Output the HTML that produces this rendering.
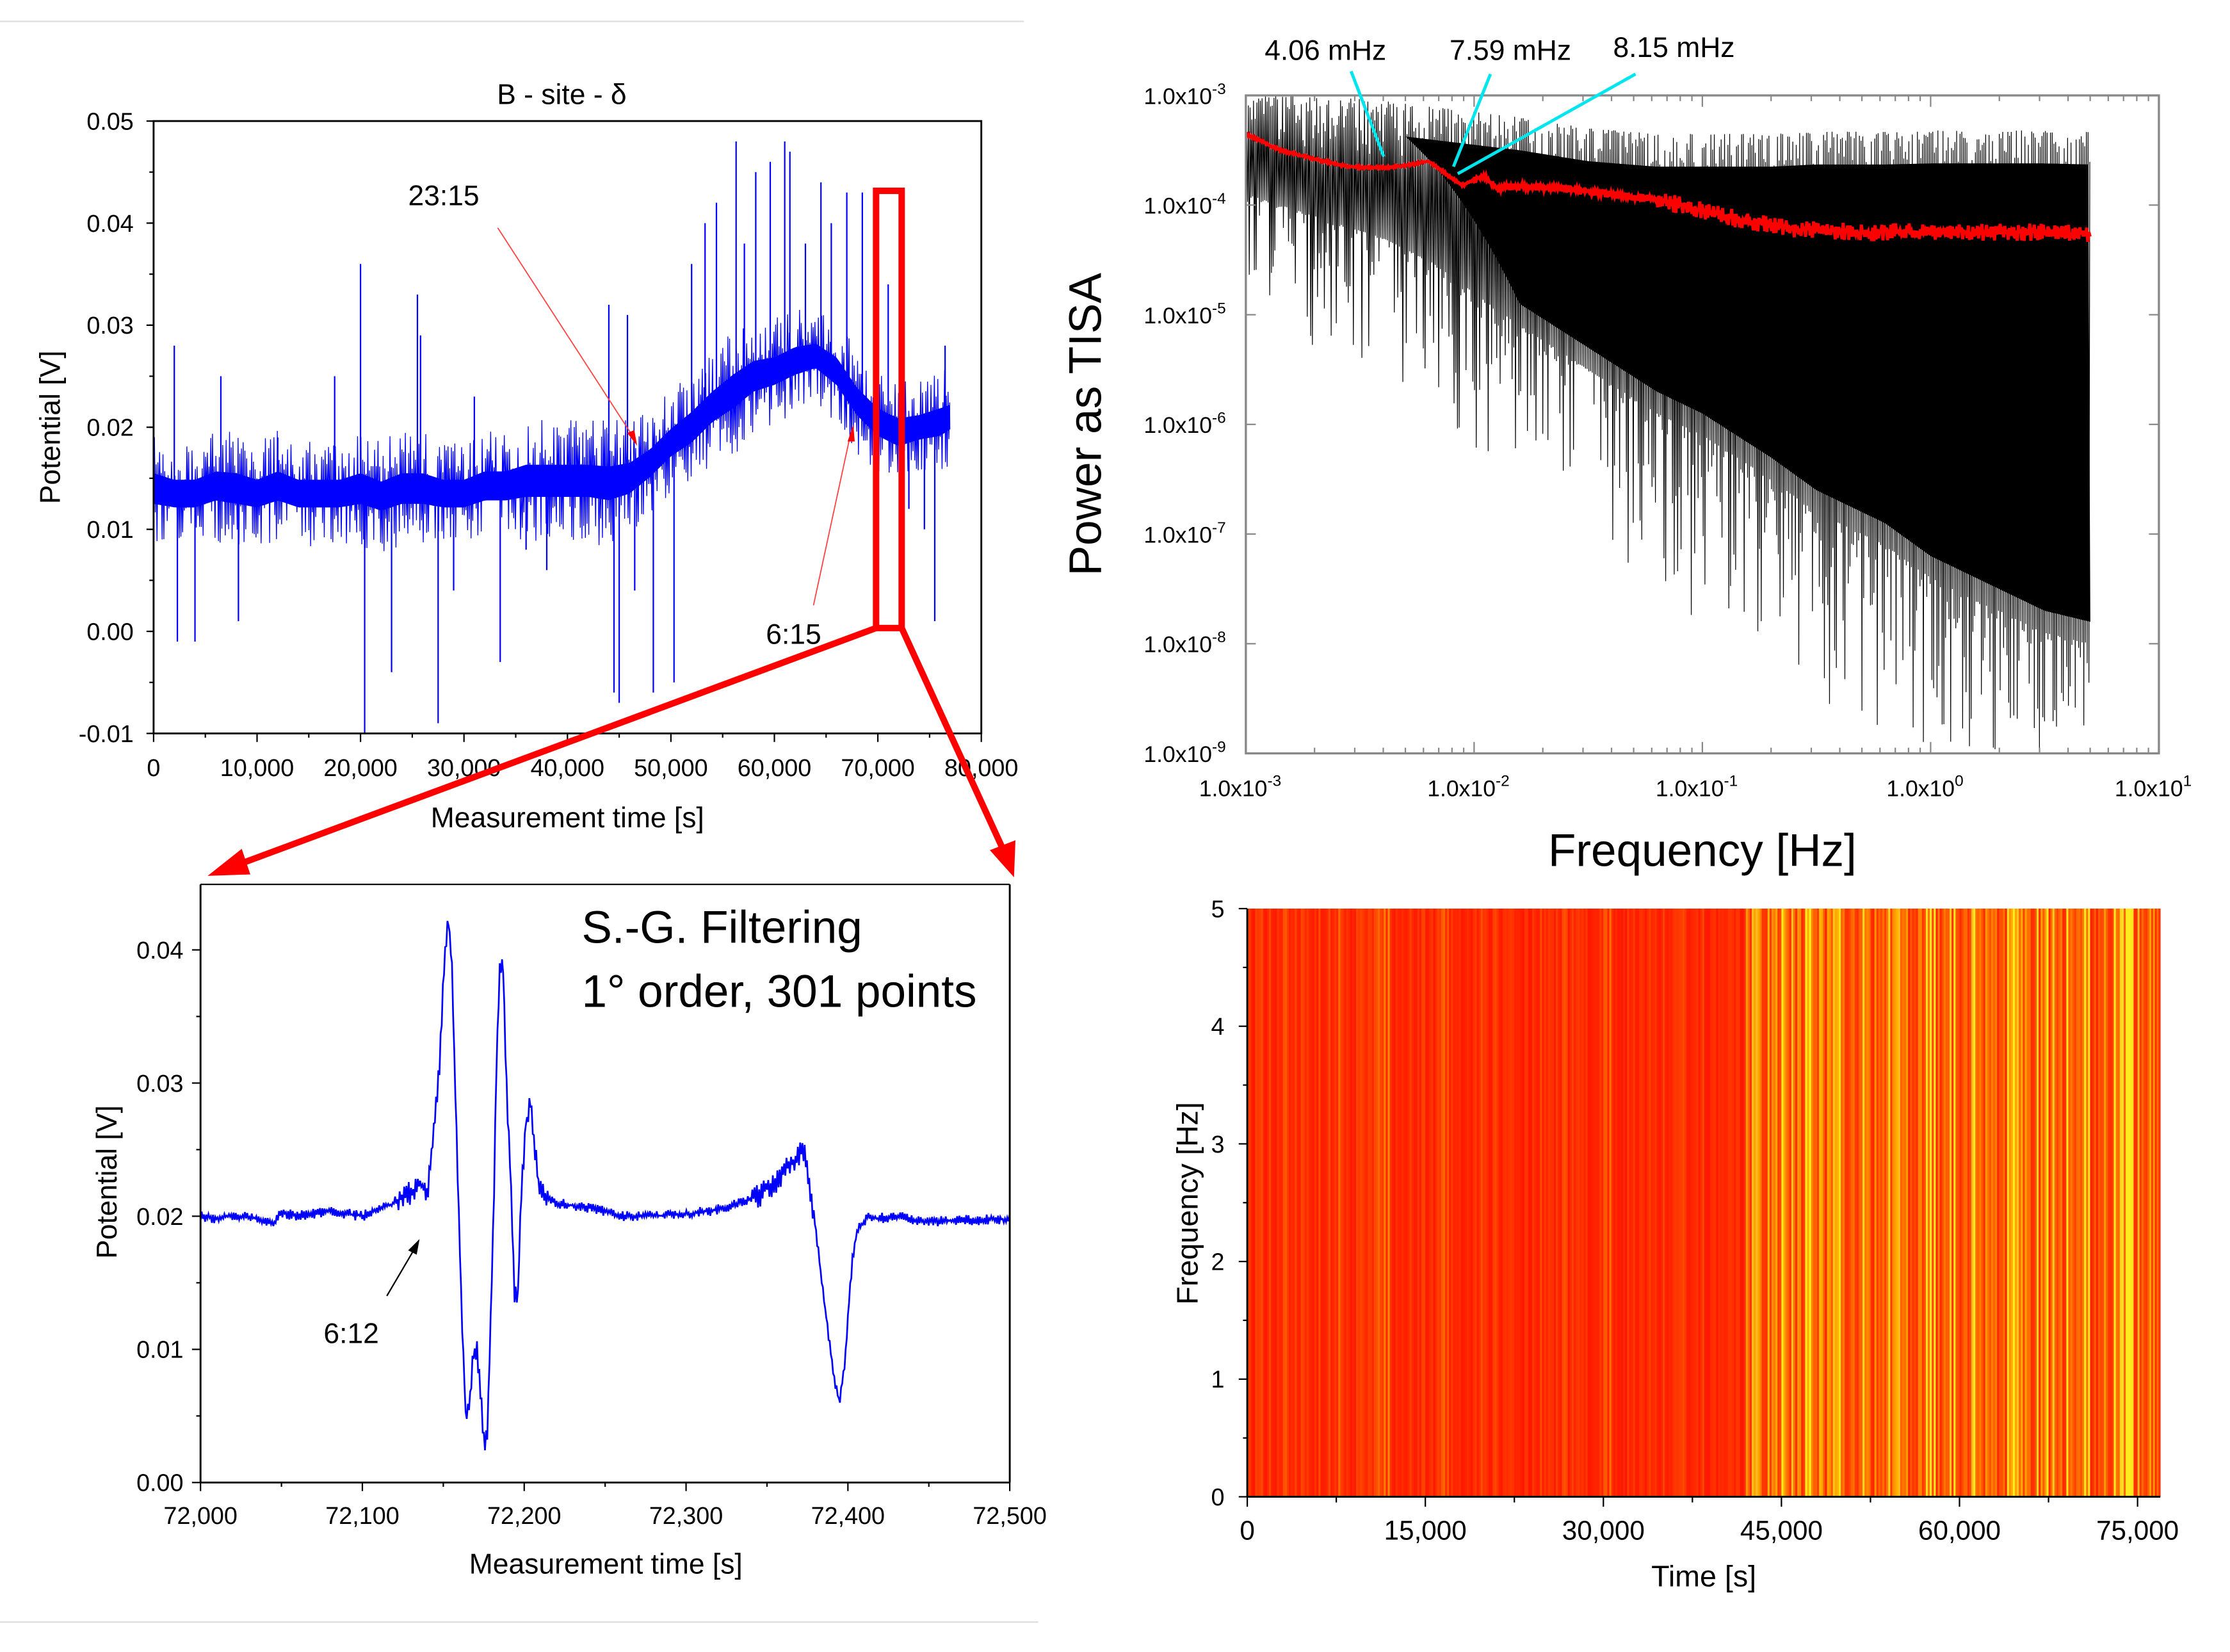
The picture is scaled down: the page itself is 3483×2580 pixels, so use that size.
<!DOCTYPE html>
<html><head><meta charset="utf-8"><style>
html,body{margin:0;padding:0;background:#fff;}
svg{display:block;font-family:"Liberation Sans",Arial,sans-serif;}
</style></head><body>
<svg id="fig" width="3483" height="2580" viewBox="0 0 1568 1160" preserveAspectRatio="none" xmlns="http://www.w3.org/2000/svg">
<line x1="0" y1="15" x2="720" y2="15" stroke="#ddd" stroke-width="1"/>
<line x1="0" y1="1139" x2="730" y2="1139" stroke="#ddd" stroke-width="1"/>
<g id="tl"></g>
<g id="bl"></g>
<g id="tr"></g>
<g id="br"></g>
<g id="ann"></g>
</svg>
<script>
// ---------- Raw potential (top-left) ----------
const rawTimes = [0,2000,4000,6000,8000,10000,12000,14000,16000,18000,20000,22000,24000,26000,28000,30000,32000,34000,36000,38000,40000,42000,44000,46000,48000,50000,52000,54000,56000,58000,60000,62000,64000,66000,68000,70000,72000,74000,76000,77000];
const rawLow  = [0.009,0.009,0.009,0.0095,0.009,0.009,0.0095,0.009,0.009,0.009,0.009,0.0085,0.009,0.009,0.009,0.009,0.0095,0.0095,0.0095,0.0095,0.0095,0.0095,0.009,0.010,0.012,0.014,0.015,0.017,0.018,0.020,0.021,0.022,0.023,0.021,0.018,0.016,0.015,0.016,0.016,0.017];
const rawHigh = [0.019,0.018,0.018,0.019,0.019,0.018,0.019,0.018,0.018,0.018,0.019,0.018,0.019,0.019,0.018,0.018,0.019,0.019,0.020,0.020,0.020,0.020,0.020,0.020,0.021,0.023,0.025,0.027,0.029,0.030,0.030,0.031,0.031,0.030,0.027,0.025,0.024,0.024,0.025,0.025];
const spikeT = [2000,2300,4000,6500,8200,12000,17500,20000,20400,23000,25500,25800,27500,29000,31000,33500,36000,38000,44000,44500,45000,45800,46500,48300,50300,52000,53300,54400,56300,57100,58200,59600,61000,61500,63000,64500,65500,67000,68500,69600,71000,73000,74500,75500,76500];
const spikeV = [0.028,-0.001,-0.001,0.025,0.001,0.019,0.025,0.036,-0.010,-0.004,0.033,0.029,-0.009,0.004,0.023,-0.003,0.008,0.006,0.032,-0.006,-0.007,0.031,0.004,-0.006,-0.005,0.036,0.040,0.042,0.048,0.038,0.045,0.046,0.048,0.047,0.038,0.044,0.040,0.043,0.043,0.009,0.034,0.012,0.010,0.001,0.028];
const rawYTicks = [-0.01,0.00,0.01,0.02,0.03,0.04,0.05];
const rawXTicks = [0,10000,20000,30000,40000,50000,60000,70000,80000];

// ---------- Filtered (bottom-left) ----------
const sgT = [72000,72010,72020,72030,72040,72045,72050,72060,72080,72100,72110,72120,72130,72136,72140,72144,72148,72151,72153,72155,72157,72159,72161,72163,72164,72166,72169,72171,72173,72175,72177,72179,72181,72183,72185,72187,72189,72192,72194,72196,72198,72201,72204,72206,72209,72212,72219,72230,72245,72260,72280,72300,72320,72333,72345,72355,72362,72368,72373,72376,72379,72383,72386,72389,72392,72395,72398,72401,72403,72406,72409,72413,72417,72430,72447,72470,72500];
const sgV = [0.0200,0.0198,0.0201,0.0199,0.0197,0.0193,0.0203,0.0200,0.0204,0.0200,0.0205,0.0210,0.0218,0.0225,0.0215,0.0260,0.0320,0.0400,0.0422,0.0400,0.0310,0.0230,0.0140,0.0080,0.0045,0.0060,0.0100,0.0098,0.0070,0.0035,0.0030,0.0110,0.0200,0.0320,0.0385,0.0390,0.0300,0.0220,0.0140,0.0135,0.0215,0.0270,0.0285,0.0255,0.0225,0.0215,0.0210,0.0208,0.0205,0.0200,0.0200,0.0202,0.0205,0.0210,0.0215,0.0225,0.0235,0.0245,0.0248,0.0225,0.0200,0.0160,0.0130,0.0100,0.0075,0.0060,0.0090,0.0140,0.0170,0.0190,0.0195,0.0200,0.0198,0.0200,0.0196,0.0197,0.0198];
const sgYTicks = [0.00,0.01,0.02,0.03,0.04];
const sgXTicks = [72000,72100,72200,72300,72400,72500];

// ---------- Power spectrum (top-right), log10 values ----------
const psLogF   = [-3,-2.7,-2.4,-2.2,-2,-1.8,-1.5,-1.2,-1,-0.7,-0.5,-0.2,0,0.3,0.5,0.7];
const psUpper  = [-3.0,-3.0,-3.05,-3.1,-3.15,-3.2,-3.3,-3.35,-3.35,-3.35,-3.33,-3.33,-3.32,-3.32,-3.32,-3.33];
const psSolid  = [-3.9,-4.1,-4.3,-4.5,-4.8,-5.1,-5.5,-5.9,-6.1,-6.5,-6.8,-7.1,-7.4,-7.7,-7.9,-8.0];
const psMin    = [-4.9,-5.3,-5.5,-5.8,-6.2,-6.6,-7.1,-7.6,-7.8,-8.2,-8.5,-8.8,-9.0,-9.0,-9.0,-9.0];
const avgLogF  = [-3,-2.85,-2.7,-2.55,-2.4,-2.3,-2.2,-2.12,-2.05,-1.96,-1.9,-1.8,-1.6,-1.4,-1.2,-1,-0.8,-0.6,-0.3,0,0.3,0.5,0.7];
const avgLogP  = [-3.35,-3.5,-3.58,-3.65,-3.66,-3.64,-3.6,-3.72,-3.82,-3.73,-3.85,-3.83,-3.85,-3.9,-3.95,-4.05,-4.15,-4.22,-4.25,-4.24,-4.25,-4.25,-4.27];
const psYTicks = [-9,-8,-7,-6,-5,-4,-3];
const psXTicks = [-3,-2,-1,0,1];

// ---------- Spectrogram (bottom-right), intensity per 1000 s ----------
const specIntensity = [0.25,0.3,0.2,0.35,0.25,0.2,0.3,0.4,0.2,0.25,0.3,0.45,0.2,0.25,0.3,0.2,0.35,0.25,0.2,0.3,
0.25,0.2,0.3,0.2,0.35,0.2,0.3,0.25,0.2,0.3,0.4,0.2,0.25,0.3,0.2,0.35,0.3,0.2,0.3,0.2,0.25,0.2,
0.8,0.55,0.65,0.85,0.5,0.75,0.55,0.65,0.45,0.7,0.55,0.4,0.75,0.6,0.5,0.85,0.65,0.75,0.55,0.8,0.5,0.6,0.75,0.55,0.65,0.85,0.45,0.7,0.75,0.35,0.55,0.8,0.85,0.6,0.65];
const specXTicks = [0,15000,30000,45000,60000,75000];
const specYTicks = [0,1,2,3,4,5];

const NS="http://www.w3.org/2000/svg";
function mk(parent,tag,attrs,text){const e=document.createElementNS(NS,tag);for(const k in attrs)e.setAttribute(k,attrs[k]);if(text!==undefined)e.textContent=text;parent.appendChild(e);return e;}
function interp(xs,ys,x){if(x<=xs[0])return ys[0];for(let i=1;i<xs.length;i++){if(x<=xs[i]){const t=(x-xs[i-1])/(xs[i]-xs[i-1]);return ys[i-1]+t*(ys[i]-ys[i-1]);}}return ys[ys.length-1];}
// deterministic irregular texture (styling only, not data)
const jf=k=>{const s=Math.sin(k*12.9898+1.7)*43758.5453;return s-Math.floor(s);};

// ===== Top-left =====
(function(){
const g=document.getElementById('tl');
const X0=108,X1=690,Y0=85,Y1=515;
const sx=t=>X0+(t-0)/80000*(X1-X0);
const sy=v=>Y1-(v+0.01)/0.06*(Y1-Y0);
let t1=mk(g,'text',{x:395,y:73,'font-size':20,'text-anchor':'middle'},'B - site - δ');

let poly=[];
for(let px=X0;px<=sx(77000);px+=2){const t=(px-X0)/(X1-X0)*80000;const lo=interp(rawTimes,rawLow,t),hi=interp(rawTimes,rawHigh,t);const m=(lo+hi)/2,h=(hi-lo)/2;poly.push(px+','+sy(m+h*0.3).toFixed(1));}
for(let px=sx(77000);px>=X0;px-=2){const t=(px-X0)/(X1-X0)*80000;const lo=interp(rawTimes,rawLow,t),hi=interp(rawTimes,rawHigh,t);const m=(lo+hi)/2,h=(hi-lo)/2;poly.push(px.toFixed(1)+','+sy(m-h*0.3).toFixed(1));}
let core=mk(g,'polygon',{points:poly.join(' '),fill:'#0000ff'});

let pts=[];let k=0;
for(let px=X0;px<=sx(77000);px+=0.6){const t=(px-X0)/(X1-X0)*80000;const lo=interp(rawTimes,rawLow,t),hi=interp(rawTimes,rawHigh,t);const mid=(lo+hi)/2,h=(hi-lo)/2;const f=jf(k);const v=(k%2?mid+h*f*1.15:mid-h*f*1.15);pts.push(px.toFixed(1)+','+sy(v).toFixed(1));k++;}
let band=mk(g,'polyline',{points:pts.join(' '),fill:'none',stroke:'#0000ff','stroke-width':0.6});

spikeT.forEach((t,i)=>{const lo=interp(rawTimes,rawLow,t),hi=interp(rawTimes,rawHigh,t);const m=(lo+hi)/2;
 const s=mk(g,'line',{x1:sx(t),x2:sx(t),y1:sy(m),y2:sy(spikeV[i]),stroke:'#0000ff','stroke-width':1});
 });
let fr=mk(g,'rect',{x:X0,y:Y0,width:X1-X0,height:Y1-Y0,fill:'none',stroke:'#000','stroke-width':1.3});

rawYTicks.forEach(v=>{mk(g,'line',{x1:X0,x2:X0-5,y1:sy(v),y2:sy(v),stroke:'#000'});
 const tl=mk(g,'text',{x:X0-14,y:sy(v)+6,'font-size':17,'text-anchor':'end'},v.toFixed(2));
 });
for(let v=-0.01;v<0.05;v+=0.005){mk(g,'line',{x1:X0,x2:X0-3,y1:sy(v),y2:sy(v),stroke:'#000'});}
rawXTicks.forEach(v=>{mk(g,'line',{x1:sx(v),x2:sx(v),y1:Y1,y2:Y1+6,stroke:'#000'});
 const tl=mk(g,'text',{x:sx(v),y:Y1+30,'font-size':17,'text-anchor':'middle'},v===0?'0':v.toLocaleString('en-US'));
 });
for(let v=5000;v<80000;v+=10000)mk(g,'line',{x1:sx(v),x2:sx(v),y1:Y1,y2:Y1+3,stroke:'#000'});
let xa=mk(g,'text',{x:399,y:581,'font-size':20,'text-anchor':'middle'},'Measurement time [s]');

let ya=mk(g,'text',{x:42,y:300,'font-size':20,'text-anchor':'middle',transform:'rotate(-90 42 300)'},'Potential [V]');

})();

// ===== Bottom-left =====
(function(){
const g=document.getElementById('bl');
const X0=141,X1=710,Y0=621,Y1=1041;
const sx=t=>X0+(t-72000)/500*(X1-X0);
const sy=v=>Y1-v/0.01*93.5;
let pts=[];let k=0;
for(let px=X0;px<=X1;px+=0.8){const t=72000+(px-X0)/(X1-X0)*500;const v=interp(sgT,sgV,t);const amp=(t>72120&&t<72215)||(t>72340&&t<72380)?0.0009:0.0004;pts.push(px.toFixed(1)+','+sy(v+(k%2?1:-1)*amp*jf(k)).toFixed(1));k++;}
let ln=mk(g,'polyline',{points:pts.join(' '),fill:'none',stroke:'#0000ff','stroke-width':1.2});

mk(g,'line',{x1:X0,x2:X0,y1:Y0,y2:Y1,stroke:'#000','stroke-width':1.3});
mk(g,'line',{x1:X0,x2:X1,y1:Y1,y2:Y1,stroke:'#000','stroke-width':1.3});
mk(g,'line',{x1:X1,x2:X1,y1:Y0,y2:Y1,stroke:'#000','stroke-width':1.3});
mk(g,'line',{x1:X0,x2:X1,y1:Y0,y2:Y0,stroke:'#000','stroke-width':1});
sgYTicks.forEach(v=>{mk(g,'line',{x1:X0,x2:X0-6,y1:sy(v),y2:sy(v),stroke:'#000'});
 const tl=mk(g,'text',{x:X0-12,y:sy(v)+6,'font-size':17,'text-anchor':'end'},v.toFixed(2));
 });
for(let v=0.005;v<0.045;v+=0.01)mk(g,'line',{x1:X0,x2:X0-3,y1:sy(v),y2:sy(v),stroke:'#000'});
sgXTicks.forEach(v=>{mk(g,'line',{x1:sx(v),x2:sx(v),y1:Y1,y2:Y1+6,stroke:'#000'});
 const tl=mk(g,'text',{x:sx(v),y:Y1+29,'font-size':17,'text-anchor':'middle'},v.toLocaleString('en-US'));
 });
for(let v=72050;v<72500;v+=100)mk(g,'line',{x1:sx(v),x2:sx(v),y1:Y1,y2:Y1+3,stroke:'#000'});
let xa=mk(g,'text',{x:426,y:1105,'font-size':20,'text-anchor':'middle'},'Measurement time [s]');

let ya=mk(g,'text',{x:82,y:830,'font-size':20,'text-anchor':'middle',transform:'rotate(-90 82 830)'},'Potential [V]');

let a=mk(g,'text',{x:409,y:662,'font-size':32},'S.-G. Filtering');

let b=mk(g,'text',{x:409,y:707,'font-size':32},'1° order, 301 points');

let c=mk(g,'text',{x:247,y:943,'font-size':20,'text-anchor':'middle'},'6:12');

mk(g,'line',{x1:272,y1:910,x2:292,y2:876,stroke:'#000','stroke-width':1});
mk(g,'polygon',{points:'295,870 287,878 293,881',fill:'#000'});
})();

// ===== Top-right =====
(function(){
const g=document.getElementById('tr');
const X0=876,X1=1518,Y0=67,Y1=529;
const sx=lf=>X0+(lf+3)/4*(X1-X0);
const sy=lp=>Y0+(-3-lp)/6*(Y1-Y0);
const xEnd=sx(0.7);
const xSolid=sx(-2.3);
let poly=[];
for(let px=xSolid;px<=xEnd;px+=2){const lf=-3+(px-X0)/(X1-X0)*4;poly.push(px.toFixed(1)+','+sy(interp(psLogF,psUpper,lf)-0.3).toFixed(1));}
for(let px=xEnd;px>=xSolid;px-=2){const lf=-3+(px-X0)/(X1-X0)*4;const ramp=Math.min(1,(lf+2.3)/0.5);const so=interp(psLogF,psSolid,lf)+0.2;const up=interp(psLogF,psUpper,lf)-0.3;poly.push(px.toFixed(1)+','+sy(up+(so-up)*ramp).toFixed(1));}
let core=mk(g,'polygon',{points:poly.join(' '),fill:'#000'});

let pts=[];let k=0;
for(let px=X0;px<=xEnd;px+=0.6){const lf=-3+(px-X0)/(X1-X0)*4;const up=interp(psLogF,psUpper,lf),so=interp(psLogF,psSolid,lf),mn=interp(psLogF,psMin,lf);const f=jf(k);
 const v=(k%2)?up-0.5*f*f:so-(so-mn)*Math.pow(f,3);pts.push(px.toFixed(1)+','+sy(v).toFixed(1));k++;}
let sp=mk(g,'polyline',{points:pts.join(' '),fill:'none',stroke:'#000','stroke-width':0.55});

let rp=[];k=0;
for(let px=X0;px<=xEnd;px+=0.8){const lf=-3+(px-X0)/(X1-X0)*4;const v=interp(avgLogF,avgLogP,lf);const amp=lf>-1.2?0.08:(lf>-2?0.035:0.012);rp.push(px.toFixed(1)+','+sy(v+(k%2?1:-1)*amp*jf(k+500)).toFixed(1));k++;}
let red=mk(g,'polyline',{points:rp.join(' '),fill:'none',stroke:'#ff0000','stroke-width':2.2});

let fr=mk(g,'rect',{x:X0,y:Y0,width:X1-X0,height:Y1-Y0,fill:'none',stroke:'#888','stroke-width':1.5});

psYTicks.forEach((v,i)=>{mk(g,'line',{x1:X0,x2:X0+7,y1:sy(v),y2:sy(v),stroke:'#888'});mk(g,'line',{x1:X1,x2:X1-7,y1:sy(v),y2:sy(v),stroke:'#888'});
 const tl=mk(g,'text',{x:X0-14,y:sy(v)+6,'font-size':16,'text-anchor':'end'});
 
 mk(tl,'tspan',{},'1.0x10');mk(tl,'tspan',{dy:-7,'font-size':11},String(v));});
psXTicks.forEach(v=>{mk(g,'line',{x1:sx(v),x2:sx(v),y1:Y1,y2:Y1-8,stroke:'#888'});mk(g,'line',{x1:sx(v),x2:sx(v),y1:Y0,y2:Y0+8,stroke:'#888'});
 const tl=mk(g,'text',{x:sx(v)-4,y:Y1+30,'font-size':16,'text-anchor':'middle'});
 
 mk(tl,'tspan',{},'1.0x10');mk(tl,'tspan',{dy:-7,'font-size':11},String(v));});
for(let d=-3;d<1;d++)for(let m=2;m<10;m++){const x=sx(d+Math.log10(m));mk(g,'line',{x1:x,x2:x,y1:Y1,y2:Y1-4,stroke:'#888'});mk(g,'line',{x1:x,x2:x,y1:Y0,y2:Y0+4,stroke:'#888'});}
let xa=mk(g,'text',{x:1197,y:608,'font-size':32,'text-anchor':'middle'},'Frequency [Hz]');

let ya=mk(g,'text',{x:774,y:298,'font-size':32,'text-anchor':'middle',transform:'rotate(-90 774 298)'},'Power as TISA');

const labs=[['4.06 mHz',932,42,950,50,973,110],['7.59 mHz',1062,42,1048,52,1022,117],['8.15 mHz',1177,40,1150,52,1025,122]];
labs.forEach(l=>{const t=mk(g,'text',{x:l[1],y:l[2],'font-size':20,'text-anchor':'middle'},l[0]);
 
 mk(g,'line',{x1:l[3],y1:l[4],x2:l[5],y2:l[6],stroke:'#00e5ee','stroke-width':2.2});});
})();

// ===== Bottom-right =====
(function(){
const g=document.getElementById('br');
const X0=877,X1=1519,Y0=638,Y1=1051;
const sx=t=>X0+t/75000*(1503-877);
const sy=v=>Y1-v/5*(Y1-Y0);
let bg=mk(g,'rect',{x:X0,y:Y0,width:X1-X0,height:Y1-Y0,fill:'#ff1400'});

function col(a){const gg=Math.round(20+Math.pow(a,1.5)*230);return 'rgb(255,'+Math.min(gg,235)+','+(a>0.8?30:0)+')';}
let sIdx=0;
specIntensity.forEach((a,i)=>{const xa=sx(i*1000),xb=Math.min(sx((i+1)*1000),X1);
 const w=xb-xa;const n=6;
 for(let s=0;s<n;s++){const f=jf(sIdx++ + 900);const aa=Math.min(1,a*(0.25+1.2*f));
  const r=mk(g,'rect',{x:xa+s*w/n,y:Y0,width:w/n+0.2,height:Y1-Y0,fill:col(aa)});
  }
});
mk(g,'line',{x1:X0,x2:X0,y1:Y0,y2:Y1,stroke:'#000','stroke-width':1.3});
mk(g,'line',{x1:X0,x2:X1,y1:Y1,y2:Y1,stroke:'#000','stroke-width':1.3});
specYTicks.forEach(v=>{mk(g,'line',{x1:X0,x2:X0-6,y1:sy(v),y2:sy(v),stroke:'#000'});
 const tl=mk(g,'text',{x:X0-16,y:sy(v)+6,'font-size':17,'text-anchor':'end'},String(v));
 });
for(let v=0.5;v<5;v+=1)mk(g,'line',{x1:X0,x2:X0-3,y1:sy(v),y2:sy(v),stroke:'#000'});
specXTicks.forEach(v=>{mk(g,'line',{x1:sx(v),x2:sx(v),y1:Y1,y2:Y1+7,stroke:'#000'});
 const tl=mk(g,'text',{x:sx(v),y:Y1+30,'font-size':19,'text-anchor':'middle'},v===0?'0':v.toLocaleString('en-US'));
 });
for(let v=7500;v<77000;v+=15000)mk(g,'line',{x1:sx(v),x2:sx(v),y1:Y1,y2:Y1+4,stroke:'#000'});
let xa=mk(g,'text',{x:1198,y:1114,'font-size':21,'text-anchor':'middle'},'Time [s]');

let ya=mk(g,'text',{x:842,y:845,'font-size':21,'text-anchor':'middle',transform:'rotate(-90 842 845)'},'Frequency [Hz]');

})();

// ===== Annotations / zoom arrows =====
(function(){
const g=document.getElementById('ann');
let r=mk(g,'rect',{x:616,y:134,width:18,height:307,fill:'none',stroke:'#ff0000','stroke-width':4.5});

let a1=mk(g,'line',{x1:616,y1:441,x2:165,y2:608,stroke:'#ff0000','stroke-width':4.5});

mk(g,'polygon',{points:'146,615 170,596 176,614',fill:'#ff0000'});
let a2=mk(g,'line',{x1:634,y1:441,x2:706,y2:598,stroke:'#ff0000','stroke-width':4.5});

mk(g,'polygon',{points:'713,616 696,597 714,590',fill:'#ff0000'});
let t=mk(g,'text',{x:312,y:144,'font-size':20,'text-anchor':'middle'},'23:15');

mk(g,'line',{x1:350,y1:160,x2:446,y2:308,stroke:'#ff4040','stroke-width':0.8});
mk(g,'polygon',{points:'448,313 441,304 446,302',fill:'#ff0000'});
let t2=mk(g,'text',{x:558,y:452,'font-size':20,'text-anchor':'middle'},'6:15');

mk(g,'line',{x1:572,y1:425,x2:598,y2:305,stroke:'#ff4040','stroke-width':0.8});
mk(g,'polygon',{points:'600,298 596,310 601,310',fill:'#ff0000'});
})();
</script>
</body></html>
